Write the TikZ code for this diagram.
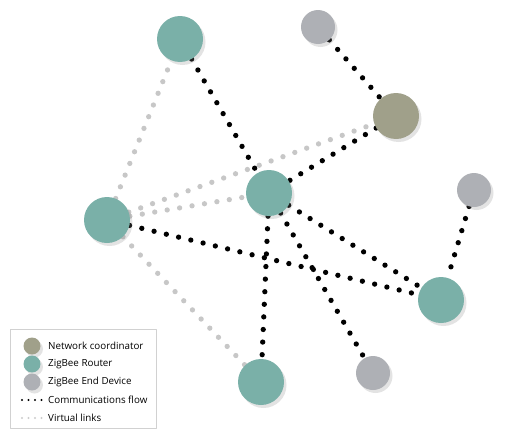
\documentclass[tikz,border=0pt]{standalone}
\usepackage{fontspec}
\setmainfont{Open Sans}
\usetikzlibrary{shadows,backgrounds}

\definecolor{routerteal}{RGB}{122,176,168}
\definecolor{coordolive}{RGB}{160,160,138}
\definecolor{devgrey}{RGB}{174,176,181}

\begin{document}
\begin{tikzpicture}[x=1pt, y=-1pt, line cap=round, line join=round,
  dev/.style={circle, inner sep=0pt, drop shadow={shadow xshift=2.5pt, shadow yshift=-3pt, opacity=0.22}},
  router/.style={dev, fill=routerteal, minimum size=46pt},
  coord/.style={dev, fill=coordolive, minimum size=46pt},
  enddev/.style={dev, fill=devgrey, minimum size=34pt},
  comm/.style={black, line width=5.3pt, line cap=round, dash pattern=on 0pt off 12.6pt},
  virt/.style={black!22, line width=5.3pt, line cap=round, dash pattern=on 0pt off 12.6pt},
  legdot/.style={dev, minimum size=17pt},
  legline/.style={line width=2.2pt, line cap=round, dash pattern=on 0pt off 6.5pt},
  legtext/.style={anchor=west, font=\fontsize{9.8}{12}\selectfont, inner sep=0pt}]

\useasboundingbox (0,0) rectangle (505,439);

\node[router] (r1) at (180,39) {};
\node[enddev] (e1) at (318,27) {};
\node[coord] (nc) at (396,116) {};
\node[router] (r2) at (269,193) {};
\node[router] (r3) at (107,220) {};
\node[enddev] (e2) at (474,190) {};
\node[router] (r4) at (441,300) {};
\node[router] (r5) at (261,382) {};
\node[enddev] (e3) at (373,373) {};

\begin{scope}[on background layer]
% virtual links
\draw[virt] (r3) -- (r1);
\draw[virt] (r3) -- (nc);
\draw[virt] (r3) -- (r2);
\draw[virt] (r3) -- (r5);
% communications flow
\draw[comm] (r1) -- (r2);
\draw[comm] (e1) -- (nc);
\draw[comm] (nc) -- (r2);
\draw[comm] (r2) -- (r5);
\draw[comm] (r2) -- (e3);
\draw[comm] (r2) -- (r4);
\draw[comm] (r3) -- (r4);
\draw[comm] (e2) -- (r4);
\end{scope}

% legend
\node[draw=black!18, fill=white, minimum width=146pt, minimum height=99pt, inner sep=0pt] (legend) at (83,378.5) {};
\node[legdot, fill=coordolive] (lnc) at (32,346) {};
\node[legdot, fill=routerteal] (lr) at (32,364) {};
\node[legdot, fill=devgrey] (le) at (32,382) {};
\coordinate (lca) at (22,400);
\coordinate (lcb) at (42,400);
\coordinate (lva) at (22,418);
\coordinate (lvb) at (42,418);
\draw[legline, black] (lca) -- (lcb);
\draw[legline, black!20] (lva) -- (lvb);
\node[legtext] at (48,346) {Network coordinator};
\node[legtext] at (48,364) {ZigBee Router};
\node[legtext] at (48,382) {ZigBee End Device};
\node[legtext] at (48,400) {Communications flow};
\node[legtext] at (48,418) {Virtual links};

\end{tikzpicture}
\end{document}
